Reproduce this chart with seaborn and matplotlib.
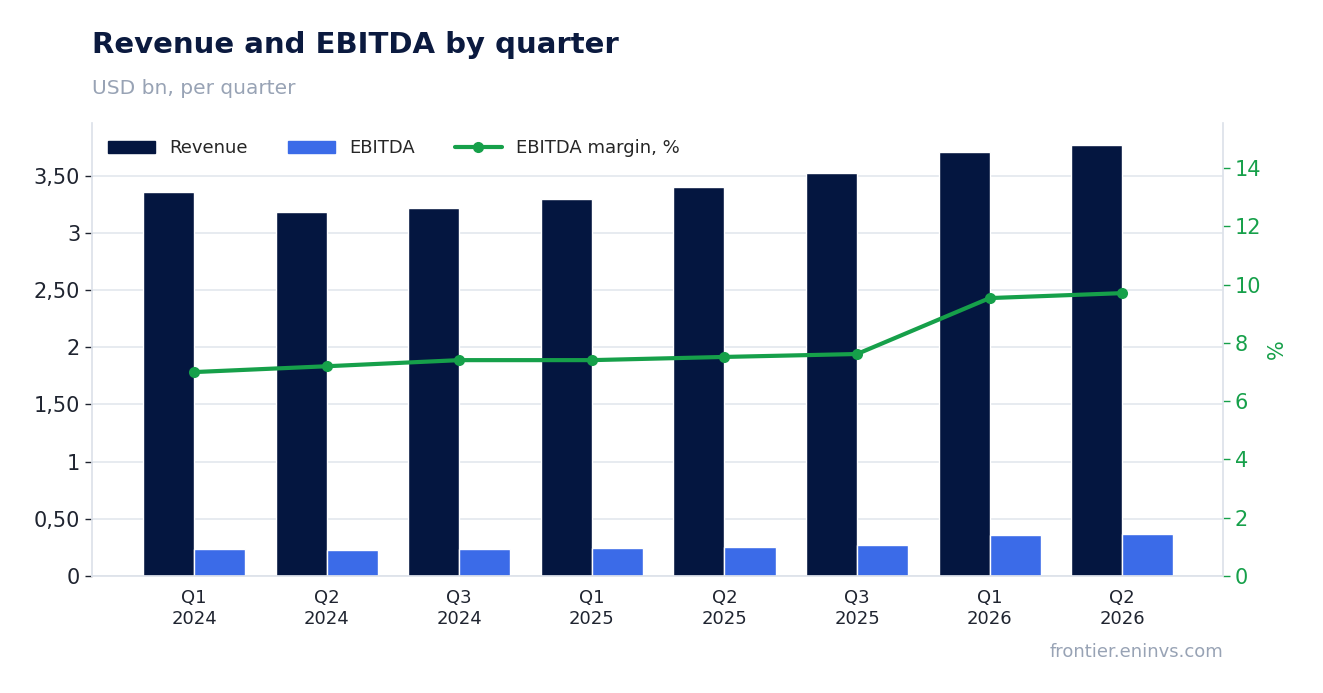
import matplotlib.pyplot as plt
import matplotlib.ticker as mticker
import pandas as pd
import seaborn as sns
from matplotlib.lines import Line2D
from matplotlib.patches import Patch

quarters = ['Q1\n2024', 'Q2\n2024', 'Q3\n2024', 'Q1\n2025', 'Q2\n2025', 'Q3\n2025', 'Q1\n2026', 'Q2\n2026']
revenue = [3.36, 3.18, 3.22, 3.30, 3.40, 3.52, 3.71, 3.77]
ebitda = [0.236, 0.23, 0.236, 0.245, 0.254, 0.27, 0.36, 0.37]
margin = [7.0, 7.2, 7.41, 7.41, 7.52, 7.62, 9.54, 9.71]

navy, blue, green = '#041640', '#3B6BE8', '#16A04A'

df = pd.DataFrame({'Quarter': quarters * 2,
                   'Value': revenue + ebitda,
                   'Series': ['Revenue'] * 8 + ['EBITDA'] * 8})

sns.set_theme(style='white')
plt.rcParams['font.family'] = ['DejaVu Sans']

fig = plt.figure(figsize=(13.23, 6.93), dpi=100)
ax = fig.add_axes([92 / 1323, 1 - 576 / 693, (1223 - 92) / 1323, (576 - 123) / 693])

sns.barplot(data=df, x='Quarter', y='Value', hue='Series', palette=[navy, blue],
            width=0.77, saturation=1, ax=ax, legend=False, zorder=2)
ax.set_xlim(-0.77, 7.76)
ax.set_ylim(0, 3.96)
ax.set_yticks([0, 0.5, 1, 1.5, 2, 2.5, 3, 3.5])
ax.yaxis.set_major_formatter(mticker.FuncFormatter(
    lambda v, p: '0' if v == 0 else (f'{v:.2f}'.replace('.', ',') if v % 1 else f'{v:.0f}')))
ax.grid(axis='y', color='#e3e7ee', lw=1.2, zorder=0)
ax.set_xlabel('')
ax.set_ylabel('')
ax.tick_params(axis='y', labelsize=15, colors='#1f2430', left=True, length=5, width=1)
ax.tick_params(axis='x', labelsize=13, colors='#1f2430')
for s in ['top', 'right']:
    ax.spines[s].set_visible(False)
for s in ['left', 'bottom']:
    ax.spines[s].set_color('#dde2ea')

ax2 = ax.twinx()
sns.lineplot(x=list(range(len(quarters))), y=margin, ax=ax2, color=green, lw=3,
             marker='o', markersize=8, markeredgewidth=0)
ax2.set_ylim(0, 15.55)
ax2.set_yticks(range(0, 15, 2))
ax2.set_ylabel('%', color=green, fontsize=15)
ax2.tick_params(axis='y', labelsize=15, colors=green, right=True, length=5, width=1)
for s in ['top', 'left', 'bottom']:
    ax2.spines[s].set_visible(False)
ax2.spines['right'].set_color('#dde2ea')

handles = [Patch(color=navy, label='Revenue'), Patch(color=blue, label='EBITDA'),
           Line2D([], [], color=green, lw=3, marker='o', markersize=7, label='EBITDA margin, %')]
ax.legend(handles=handles, loc='upper left', ncol=3, frameon=False, fontsize=13,
          bbox_to_anchor=(0.0, 1.0), handlelength=2.6, columnspacing=2.2)

fig.text(92 / 1323, 1 - 45 / 693, 'Revenue and EBITDA by quarter', fontsize=21,
         fontweight='bold', color='#0b1a3f', va='center')
fig.text(92 / 1323, 1 - 88 / 693, 'USD bn, per quarter', fontsize=14.5, color='#98a3b5', va='center')
fig.text(1223 / 1323, 1 - 652 / 693, 'frontier.eninvs.com', fontsize=13, color='#98a3b5',
         ha='right', va='center')

fig.savefig('out.png', dpi=100)
